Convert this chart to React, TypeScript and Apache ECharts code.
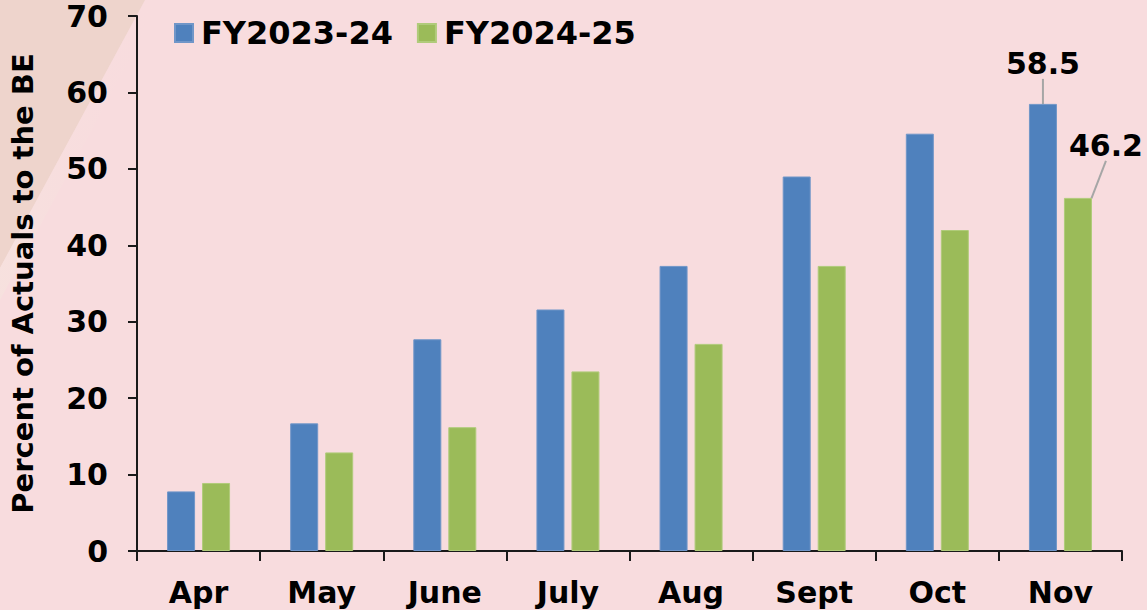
import React, { useEffect, useRef } from "react";
import * as echarts from "echarts";

const categories = ["Apr", "May", "June", "July", "Aug", "Sept", "Oct", "Nov"];
const fy2324 = [7.8, 16.7, 27.7, 31.6, 37.3, 49.0, 54.6, 58.5];
const fy2425 = [8.9, 12.9, 16.2, 23.5, 27.1, 37.3, 42.0, 46.2];
const seriesNames = ["FY2023-24", "FY2024-25"];
const yTicks = { min: 0, max: 70, interval: 10 };
const yTitle = "Percent of Actuals to the BE";

const FONT = "DejaVu Sans";

export default function App() {
  const ref = useRef<HTMLDivElement>(null);
  useEffect(() => {
    if (!ref.current) return;
    const chart = echarts.init(ref.current, undefined, { renderer: "svg" });
    const last = categories.length - 1;
    const mkData = (arr: number[]) =>
      arr.map((v, i) =>
        i === last
          ? { value: v, label: { show: true }, labelLine: { show: true } }
          : { value: v }
      );
    chart.setOption({
      animation: false,
      backgroundColor: "#F8DCDE",
      textStyle: { fontFamily: FONT, fontWeight: "bold", color: "#000" },
      graphic: [
        {
          type: "polygon",
          z: -10,
          silent: true,
          shape: { points: [[0, 0], [145, 0], [0, 268]] },
          style: { fill: "#EED4CC" },
        },
        {
          type: "polygon",
          z: -9,
          silent: true,
          shape: { points: [[145, 0], [162, 0], [0, 300], [0, 268]] },
          style: {
            fill: {
              type: "linear",
              x: 0,
              y: 0,
              x2: 1,
              y2: 0,
              colorStops: [
                { offset: 0, color: "rgba(246,226,222,0.8)" },
                { offset: 1, color: "rgba(248,220,222,0)" },
              ],
            },
          },
        },
      ],
      grid: { left: 137, right: 25, top: 16, bottom: 59, outerBoundsMode: "none" },
      legend: {
        left: 169,
        top: 12,
        padding: 5,
        itemWidth: 18,
        itemHeight: 18,
        itemGap: 24,
        icon: "rect",
        textStyle: {
          fontFamily: FONT,
          fontWeight: "bold",
          fontSize: 32,
          color: "#000",
          padding: [0, 0, 0, 3],
        },
        data: seriesNames,
      },
      xAxis: {
        type: "category",
        data: categories,
        axisLine: { lineStyle: { color: "#1a1a1a", width: 2 } },
        axisTick: { show: true, length: 10, lineStyle: { color: "#1a1a1a", width: 2 } },
        axisLabel: { fontFamily: FONT, fontWeight: "bold", fontSize: 30, color: "#000", margin: 26 },
      },
      yAxis: {
        type: "value",
        min: yTicks.min,
        max: yTicks.max,
        interval: yTicks.interval,
        name: yTitle,
        nameLocation: "middle",
        nameRotate: 90,
        nameGap: 100,
        nameTextStyle: { fontFamily: FONT, fontWeight: "bold", fontSize: 29, color: "#000" },
        splitLine: { show: false },
        axisLine: { show: true, lineStyle: { color: "#1a1a1a", width: 2 } },
        axisTick: { show: true, length: 9, lineStyle: { color: "#1a1a1a", width: 2 } },
        axisLabel: { fontFamily: FONT, fontWeight: "bold", fontSize: 30, color: "#000", margin: 29 },
      },
      series: [
        {
          name: seriesNames[0],
          type: "bar",
          barWidth: 28,
          barGap: "25%",
          itemStyle: { color: "#4F81BD", borderColor: "#7096C8", borderWidth: 1 },
          label: {
            show: false,
            position: "top",
            fontFamily: FONT,
            fontWeight: "bold",
            fontSize: 30,
            color: "#000",
          },
          labelLine: { show: false, lineStyle: { color: "#A6A6A6", width: 2 } },
          labelLayout: { dy: -20 },
          data: mkData(fy2324),
        },
        {
          name: seriesNames[1],
          type: "bar",
          barWidth: 28,
          barGap: "25%",
          itemStyle: { color: "#9BBB59", borderColor: "#B0CB7A", borderWidth: 1 },
          label: {
            show: false,
            position: "top",
            fontFamily: FONT,
            fontWeight: "bold",
            fontSize: 30,
            color: "#000",
          },
          labelLine: { show: false, lineStyle: { color: "#A6A6A6", width: 2 } },
          labelLayout: { dx: 28, dy: -32 },
          data: mkData(fy2425),
        },
      ],
    });
    return () => chart.dispose();
  }, []);
  return (
    <div
      ref={ref}
      style={{ position: "fixed", left: 0, top: 0, width: 1147, height: 610 }}
    />
  );
}
